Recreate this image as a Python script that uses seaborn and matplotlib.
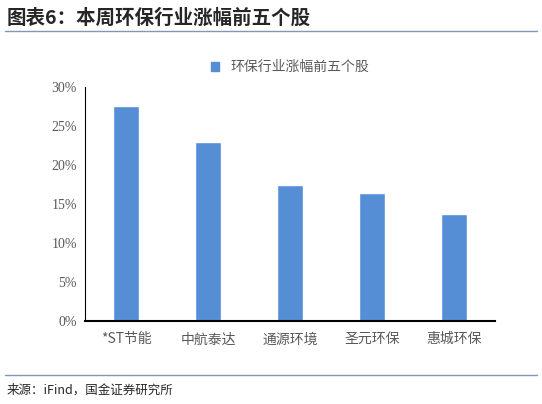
import matplotlib
matplotlib.use('Agg')
import matplotlib.pyplot as plt
import seaborn as sns
import pandas as pd
from matplotlib.lines import Line2D
from matplotlib.patches import Patch

# data
stocks = ['*ST节能', '中航泰达', '通源环境', '圣元环保', '惠城环保']
gains = [27.6, 23.0, 17.5, 16.5, 13.7]
series_name = '环保行业涨幅前五个股'
yticks = [0, 5, 10, 15, 20, 25, 30]

sns.set_style('white')
plt.rcParams['font.family'] = ['Noto Sans CJK SC', 'DejaVu Sans']

df = pd.DataFrame({'stock': stocks, 'gain': gains})

fig = plt.figure(figsize=(5.42, 4.04), dpi=100)
ax = fig.add_axes([0.157, 0.205, 0.756, 0.579])
sns.barplot(data=df, x='stock', y='gain', color='#558ED5', saturation=1,
            width=0.32, ax=ax)

ax.set_ylim(0, 30)
ax.set_yticks(yticks)
ax.set_yticklabels([f'{v}%' for v in yticks], fontsize=10, color='#595959',
                   family=['Liberation Serif', 'Noto Sans CJK SC'])
ax.tick_params(axis='x', labelsize=10, colors='#595959', length=0, pad=8)
ax.tick_params(axis='y', length=0, pad=6)
ax.set_xlabel('')
ax.set_ylabel('')
for s in ['top', 'right']:
    ax.spines[s].set_visible(False)
ax.spines['left'].set_color('black')
ax.spines['bottom'].set_color('black')
ax.spines['bottom'].set_linewidth(1.5)

ax.legend(handles=[Patch(color='#558ED5', label=series_name)],
          loc='upper center', bbox_to_anchor=(0.5, 1.17), frameon=False,
          fontsize=10, handlelength=0.6, handleheight=0.6, labelcolor='#595959')

fig.text(0.012, 0.955, '图表6：本周环保行业涨幅前五个股', fontsize=14,
         fontweight='bold', style='italic', va='center')
fig.add_artist(Line2D([0.01, 0.99], [0.923, 0.923], color='#8497B0', lw=1))
fig.add_artist(Line2D([0.01, 0.99], [0.072, 0.072], color='#8497B0', lw=1))
fig.text(0.012, 0.035, '来源：iFind，国金证券研究所', fontsize=9, va='center')

fig.savefig('out.png', dpi=100)
